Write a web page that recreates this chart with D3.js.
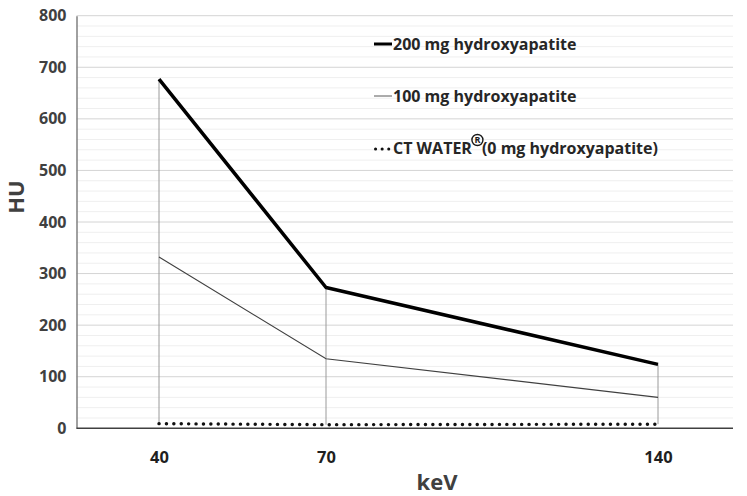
<!DOCTYPE html>
<html>
<head>
<meta charset="utf-8">
<script src="https://cdn.jsdelivr.net/npm/d3@7"></script>
<style>
  body { margin: 0; background: #fff; }
  text { font-family: "Open Sans", "DejaVu Sans", sans-serif; font-weight: 700; }
</style>
</head>
<body>
<div id="chart"></div>
<script>
// keV settings and measured HU values
const kev = [40, 70, 140];
const hu200 = [677, 273, 124];
const hu100 = [332, 135, 60];
const huWater = [9, 7, 8];
const yTicks = [0, 100, 200, 300, 400, 500, 600, 700, 800];
const legendLabels = ['200 mg hydroxyapatite', '100 mg hydroxyapatite', 'CT WATER'];

const width = 747, height = 496;
const plot = { left: 76.5, right: 733, top: 15.7, bottom: 428.3 };

const svg = d3.select('#chart').append('svg')
  .attr('width', width)
  .attr('height', height);

// x positions follow the original chart's uneven spacing of the keV points
const xScale = d3.scaleLinear()
  .domain(kev)
  .range([159, 326, 658]);
const yScale = d3.scaleLinear()
  .domain([0, 800])
  .range([plot.bottom, plot.top]);

// minor grid (every 20) then major grid (every 100)
const minor = d3.range(20, 800, 20).filter(v => v % 100 !== 0);
svg.append('g').selectAll('line')
  .data(minor)
  .join('line')
  .attr('x1', plot.left).attr('x2', plot.right)
  .attr('y1', d => yScale(d)).attr('y2', d => yScale(d))
  .attr('stroke', '#efefef')
  .attr('stroke-width', 1);

svg.append('g').selectAll('line')
  .data(yTicks.slice(1))
  .join('line')
  .attr('x1', plot.left).attr('x2', plot.right)
  .attr('y1', d => yScale(d)).attr('y2', d => yScale(d))
  .attr('stroke', '#d4d4d4')
  .attr('stroke-width', 1);

// y axis
const yAxis = svg.append('g')
  .attr('transform', `translate(${plot.left},0)`)
  .call(d3.axisLeft(yScale).tickValues(yTicks).tickSize(0).tickPadding(10));
yAxis.select('.domain').attr('stroke', '#808080').attr('stroke-width', 1.5);
yAxis.selectAll('text')
  .attr('font-size', 16)
  .attr('fill', '#404040')
  .attr('font-family', '"Open Sans", sans-serif')
  .attr('font-weight', 700);

// drop lines from the highest to the lowest series at each keV
svg.append('g').selectAll('line')
  .data(kev)
  .join('line')
  .attr('x1', d => xScale(d)).attr('x2', d => xScale(d))
  .attr('y1', (d, i) => yScale(hu200[i]))
  .attr('y2', (d, i) => yScale(huWater[i]))
  .attr('stroke', '#9a9a9a')
  .attr('stroke-width', 1);

// x axis line
svg.append('line')
  .attr('x1', plot.left).attr('x2', plot.right)
  .attr('y1', yScale(0)).attr('y2', yScale(0))
  .attr('stroke', '#404040')
  .attr('stroke-width', 1.5);

const xAxis = svg.append('g')
  .attr('transform', `translate(0,${yScale(0)})`)
  .call(d3.axisBottom(xScale).tickValues(kev).tickFormat(d3.format('d')).tickSize(0).tickPadding(23));
xAxis.select('.domain').remove();
xAxis.selectAll('text')
  .attr('font-size', 16.5)
  .attr('fill', '#1f1f1f')
  .attr('font-family', '"Open Sans", sans-serif')
  .attr('font-weight', 700);

// series
const line = d3.line()
  .x((d, i) => xScale(kev[i]))
  .y(d => yScale(d));

svg.append('path')
  .datum(huWater)
  .attr('d', line)
  .attr('fill', 'none')
  .attr('stroke', '#111')
  .attr('stroke-width', 3.4)
  .attr('stroke-linecap', 'round')
  .attr('stroke-dasharray', '0.1 7.3');

svg.append('path')
  .datum(hu100)
  .attr('d', line)
  .attr('fill', 'none')
  .attr('stroke', '#404040')
  .attr('stroke-width', 1.1);

svg.append('path')
  .datum(hu200)
  .attr('d', line)
  .attr('fill', 'none')
  .attr('stroke', '#000')
  .attr('stroke-width', 3.5)
  .attr('stroke-linejoin', 'round');

// legend
const legend = svg.append('g').attr('transform', 'translate(374,0)');
const legendY = [44, 96, 148];

legend.append('line')
  .attr('x1', 0).attr('x2', 18).attr('y1', legendY[0]).attr('y2', legendY[0])
  .attr('stroke', '#000').attr('stroke-width', 3);
legend.append('line')
  .attr('x1', 0).attr('x2', 18).attr('y1', legendY[1]).attr('y2', legendY[1])
  .attr('stroke', '#595959').attr('stroke-width', 1);
legend.append('line')
  .attr('x1', 1.5).attr('x2', 17).attr('y1', legendY[2] + 1).attr('y2', legendY[2] + 1)
  .attr('stroke', '#111').attr('stroke-width', 3)
  .attr('stroke-linecap', 'round')
  .attr('stroke-dasharray', '0.1 6.5');

legend.selectAll('text.lbl')
  .data(legendLabels)
  .join('text')
  .attr('class', 'lbl')
  .attr('x', 19)
  .attr('y', (d, i) => legendY[i])
  .attr('dy', '0.35em')
  .attr('font-size', 16)
  .attr('fill', '#262626')
  .text(d => d);

// registered mark and rest of the third label
const wEnd = 19 + legend.selectAll('text.lbl').nodes()[2].getComputedTextLength();
const reg = legend.append('g').attr('transform', `translate(${wEnd + 5.5},${legendY[2] - 8})`);
reg.append('circle').attr('r', 5.5).attr('fill', 'none').attr('stroke', '#1a1a1a').attr('stroke-width', 1.4);
reg.append('text').attr('text-anchor', 'middle').attr('dy', '0.36em')
  .attr('font-size', 9).attr('fill', '#1a1a1a').text('R');
legend.append('text')
  .attr('x', wEnd + 10)
  .attr('y', legendY[2])
  .attr('dy', '0.35em')
  .attr('font-size', 16)
  .attr('fill', '#262626')
  .text('(0 mg hydroxyapatite)');

// axis titles
svg.append('text')
  .attr('transform', `translate(24,197) rotate(-90)`)
  .attr('text-anchor', 'middle')
  .attr('font-size', 22)
  .attr('fill', '#404040')
  .text('HU');

svg.append('text')
  .attr('x', 437)
  .attr('y', 490)
  .attr('text-anchor', 'middle')
  .attr('font-size', 22)
  .attr('fill', '#404040')
  .text('keV');
</script>
</body>
</html>
